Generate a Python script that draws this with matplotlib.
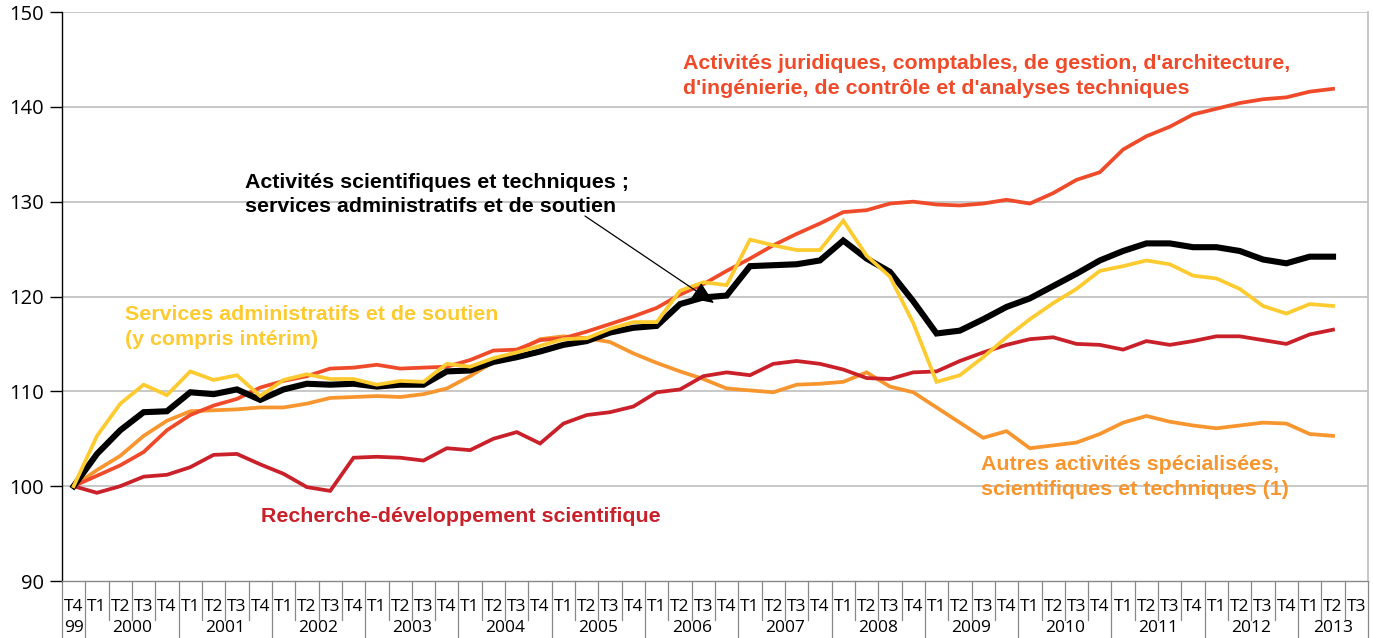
import matplotlib
matplotlib.use("Agg")
import matplotlib.pyplot as plt
import numpy as np

# ---------------- data ----------------
quarters = ["T4"] + ["T1", "T2", "T3", "T4"] * 13 + ["T1", "T2", "T3"]
years = ["99", "2000", "2001", "2002", "2003", "2004", "2005", "2006",
         "2007", "2008", "2009", "2010", "2011", "2012", "2013"]

ensemble = [100, 103.4, 105.9, 107.8, 107.9, 109.9, 109.7, 110.2, 109.1, 110.2,
            110.8, 110.7, 110.8, 110.5, 110.7, 110.7, 112.1, 112.2, 113.1, 113.6,
            114.2, 114.9, 115.3, 116.2, 116.7, 116.9, 119.2, 119.9, 120.1, 123.2,
            123.3, 123.4, 123.8, 125.9, 124.0, 122.6, 119.5, 116.1, 116.4, 117.6,
            118.9, 119.8, 121.1, 122.4, 123.8, 124.8, 125.6, 125.6, 125.2, 125.2,
            124.8, 123.9, 123.5, 124.2, 124.2]

juridiques = [100, 101.1, 102.2, 103.6, 105.9, 107.5, 108.5, 109.2, 110.4, 111.1,
              111.6, 112.4, 112.5, 112.8, 112.4, 112.5, 112.6, 113.3, 114.3, 114.4,
              115.4, 115.6, 116.3, 117.1, 117.9, 118.8, 120.2, 121.3, 122.7, 124.0,
              125.4, 126.6, 127.7, 128.9, 129.1, 129.8, 130.0, 129.7, 129.6, 129.8,
              130.2, 129.8, 130.9, 132.3, 133.1, 135.5, 136.9, 137.9, 139.2, 139.8,
              140.4, 140.8, 141.0, 141.6, 141.9]

services = [100, 105.3, 108.7, 110.7, 109.6, 112.1, 111.2, 111.7, 109.5, 111.2,
            111.8, 111.3, 111.3, 110.7, 111.1, 111.0, 112.9, 112.6, 113.5, 114.1,
            114.8, 115.5, 115.6, 116.6, 117.3, 117.3, 120.6, 121.5, 121.2, 126.0,
            125.4, 124.9, 124.9, 128.0, 124.3, 122.1, 117.2, 111.0, 111.7, 113.6,
            115.7, 117.6, 119.3, 120.8, 122.7, 123.2, 123.8, 123.4, 122.2, 121.9,
            120.8, 119.0, 118.2, 119.2, 119.0]

autres = [100, 101.7, 103.2, 105.3, 106.9, 107.9, 108.0, 108.1, 108.3, 108.3,
          108.7, 109.3, 109.4, 109.5, 109.4, 109.7, 110.3, 111.6, 113.1, 114.2,
          115.5, 115.8, 115.6, 115.2, 114.0, 113.0, 112.1, 111.3, 110.3, 110.1,
          109.9, 110.7, 110.8, 111.0, 112.0, 110.5, 109.9, 108.3, 106.7, 105.1,
          105.8, 104.0, 104.3, 104.6, 105.5, 106.7, 107.4, 106.8, 106.4, 106.1,
          106.4, 106.7, 106.6, 105.5, 105.3]

recherche = [100, 99.3, 100.0, 101.0, 101.2, 102.0, 103.3, 103.4, 102.3, 101.3,
             99.9, 99.5, 103.0, 103.1, 103.0, 102.7, 104.0, 103.8, 105.0, 105.7,
             104.5, 106.6, 107.5, 107.8, 108.4, 109.9, 110.2, 111.6, 112.0, 111.7,
             112.9, 113.2, 112.9, 112.3, 111.4, 111.3, 112.0, 112.1, 113.2, 114.1,
             114.9, 115.5, 115.7, 115.0, 114.9, 114.4, 115.3, 114.9, 115.3, 115.8,
             115.8, 115.4, 115.0, 116.0, 116.5]

# ---------------- style ----------------
C_JUR = "#EF4B2A"
C_SERV = "#FDCB2F"
C_AUT = "#F7962F"
C_RD = "#C9202A"
C_ENS = "#000000"

W, H = 1373, 638
fig = plt.figure(figsize=(W / 100, H / 100), dpi=100)
L, R, T, B = 62, 1368, 12, 581
ax = fig.add_axes([L / W, 1 - B / H, (R - L) / W, (B - T) / H])

n = len(quarters)
x = np.arange(len(ensemble)) + 0.5

lw_c = 2.7
ax.plot(x, autres, color=C_AUT, lw=lw_c, solid_joinstyle="miter", zorder=3)
ax.plot(x, recherche, color=C_RD, lw=lw_c, solid_joinstyle="miter", zorder=3)
ax.plot(x, juridiques, color=C_JUR, lw=lw_c, solid_joinstyle="miter", zorder=3)
ax.plot(x, ensemble, color=C_ENS, lw=4.4, solid_joinstyle="miter", zorder=4)
ax.plot(x, services, color=C_SERV, lw=lw_c, solid_joinstyle="miter", zorder=5)

ax.set_xlim(0, n)
ax.set_ylim(90, 150)
ax.set_yticks(np.arange(90, 151, 10))
ax.tick_params(axis="y", direction="out", length=9, width=1, labelsize=14.5,
               pad=4, colors="#000000")
for lab in ax.get_yticklabels():
    lab.set_family("Open Sans")
ax.set_xticks([])
for yv in range(100, 151, 10):
    ax.axhline(yv, color="#C4C4C4", lw=1.3, zorder=1)

ax.spines["top"].set_visible(False)
ax.spines["left"].set_color("#000000")
ax.spines["left"].set_linewidth(1.0)
ax.spines["right"].set_color("#C4C4C4")
ax.spines["right"].set_linewidth(1.3)
ax.spines["bottom"].set_color("#888888")
ax.spines["bottom"].set_linewidth(1.0)

# category axis: separators and labels
trans = ax.get_xaxis_transform()
axh = B - T


def ay(py):
    return -(py - B) / axh


for k in range(n + 1):
    is_year = (k % 4 == 1) or k == 0 or k == n
    y_end = ay(638) if is_year else ay(620)
    ax.plot([k, k], [0, y_end], color="#888888", lw=0.9, transform=trans,
            clip_on=False)
tfs = 12.5
for k, q in enumerate(quarters):
    ax.text(k + 0.5, ay(607), q, transform=trans, ha="center", va="center",
            fontsize=tfs, family="Open Sans")
ax.text(0.5, ay(628), years[0], transform=trans, ha="center", va="center",
        fontsize=tfs, family="Open Sans")
for j, yr in enumerate(years[1:]):
    start = 1 + 4 * j
    end = min(start + 4, n)
    ax.text((start + end) / 2, ay(628), yr, transform=trans, ha="center",
            va="center", fontsize=tfs, family="Open Sans")

# ---------------- annotations ----------------
def px2x(px):
    return (px - L) / ((R - L) / n)


def py2y(py):
    return 90 + (B - py) / (axh / 60)


fs = 15.4


def label(px, centers, lines, color):
    for cy, line in zip(centers, lines):
        ax.text(px2x(px), py2y(cy + 7), line, color=color, fontsize=fs,
                fontweight="bold", family="Liberation Sans", ha="left",
                va="baseline", zorder=7)


label(683, [62, 87], ["Activités juridiques, comptables, de gestion, d'architecture,",
                      "d'ingénierie, de contrôle et d'analyses techniques"], C_JUR)
label(245, [181, 205], ["Activités scientifiques et techniques ;",
                        "services administratifs et de soutien"], "#000000")
label(125, [313, 338], ["Services administratifs et de soutien",
                        "(y compris intérim)"], C_SERV)
label(261, [515], ["Recherche-développement scientifique"], C_RD)
label(981, [463, 488], ["Autres activités spécialisées,",
                        "scientifiques et techniques (1)"], C_AUT)

ax.annotate("", xy=(px2x(714), py2y(303)), xytext=(px2x(585), py2y(216)),
            arrowprops=dict(arrowstyle="-|>,head_length=1.4,head_width=0.6",
                            color="#000000", lw=0.9, shrinkA=0, shrinkB=0),
            zorder=8)

fig.savefig("out.png", dpi=100)
